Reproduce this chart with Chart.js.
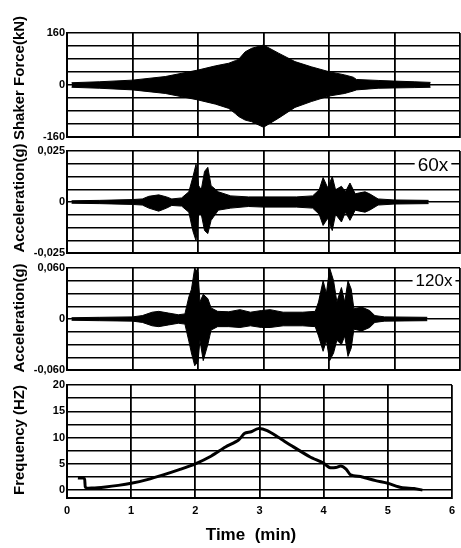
<!DOCTYPE html>
<html><head><meta charset="utf-8">
<script src="https://cdn.jsdelivr.net/npm/chart.js@4.4.1/dist/chart.umd.min.js"></script>
<style>
html,body{margin:0;padding:0;background:#fff;}
#wrap{position:relative;width:461px;height:548px;overflow:hidden;background:#fff;}
canvas{position:absolute;left:0;top:0;}
</style></head><body>
<div id="wrap">
<canvas id="c1" width="461" height="548"></canvas>
<canvas id="c2" width="461" height="548"></canvas>
<canvas id="c3" width="461" height="548"></canvas>
<canvas id="c4" width="461" height="548"></canvas>
</div>
<script>
// ---------- data ----------
const timeTicks = [0, 1, 2, 3, 4, 5, 6];

// Shaker force envelope (kN) vs time (min)
const forceT  = [0.07,0.5,1.0,1.5,2.0,2.27,2.47,2.57,2.62,2.72,2.82,3.0,3.23,3.48,3.73,4.0,4.24,4.37,4.42,4.75,5.0,5.3,5.55];
const forceUp = [7,10,15,26,46,59,67,75,79,102,113,123,98,72,56,41,31,24,17,14,12,10,8];
const forceLo = [-7,-10,-15,-26,-46,-59,-72,-88,-97,-108,-113,-130,-102,-69,-51,-34,-26,-18.5,-15,-10,-9,-8,-7];
const forceTicks = [-160,-120,-80,-40,0,40,80,120,160];
const forceTickLabels = ['-160','','','','0','','','','160'];

// Acceleration 60x envelope (g)
const acc60T  = [0.07,0.5,1.0,1.15,1.25,1.4,1.52,1.6,1.75,1.86,1.92,1.97,2.01,2.05,2.1,2.15,2.2,2.31,2.5,2.77,3.0,3.5,3.75,3.85,3.91,3.98,4.05,4.1,4.19,4.25,4.32,4.4,4.47,4.55,4.62,4.75,5.0,5.52];
const acc60Up = [0.0006,0.0008,0.0012,0.0015,0.0028,0.0035,0.0025,0.0015,0.002,0.005,0.012,0.0185,0.008,0.006,0.015,0.017,0.008,0.005,0.003,0.0025,0.0025,0.0025,0.003,0.006,0.012,0.007,0.0125,0.006,0.0077,0.005,0.0093,0.004,0.0045,0.005,0.004,0.0015,0.001,0.0008];
const acc60Lo = [-0.0006,-0.0008,-0.0012,-0.0015,-0.003,-0.0045,-0.003,-0.0017,-0.002,-0.005,-0.014,-0.019,-0.006,-0.006,-0.014,-0.0155,-0.009,-0.004,-0.003,-0.0022,-0.0025,-0.0025,-0.003,-0.006,-0.0115,-0.008,-0.014,-0.006,-0.0098,-0.005,-0.009,-0.004,-0.0045,-0.005,-0.004,-0.0015,-0.001,-0.0008];
const acc60Ticks = [-0.025,-0.01875,-0.0125,-0.00625,0,0.00625,0.0125,0.01875,0.025];
const acc60TickLabels = ['-0,025','','','','0','','','','0,025'];

// Acceleration 120x envelope (g)
const acc120T  = [0.07,0.5,1.0,1.15,1.3,1.4,1.55,1.7,1.8,1.86,1.9,1.95,2.0,2.03,2.08,2.15,2.2,2.3,2.47,2.64,2.8,2.97,3.1,3.3,3.6,3.79,3.84,3.91,3.96,4.01,4.07,4.12,4.19,4.24,4.29,4.34,4.38,4.5,4.62,4.7,4.85,5.5];
const acc120Up = [0.0015,0.002,0.0025,0.004,0.008,0.009,0.007,0.005,0.006,0.026,0.035,0.06,0.055,0.02,0.029,0.024,0.013,0.009,0.0085,0.011,0.008,0.01,0.011,0.008,0.008,0.009,0.02,0.045,0.03,0.06,0.045,0.02,0.037,0.02,0.045,0.035,0.012,0.014,0.01,0.004,0.0025,0.002];
const acc120Lo = [-0.0015,-0.002,-0.0025,-0.004,-0.008,-0.009,-0.007,-0.005,-0.006,-0.026,-0.04,-0.055,-0.05,-0.025,-0.049,-0.03,-0.013,-0.009,-0.009,-0.01,-0.008,-0.01,-0.01,-0.008,-0.008,-0.009,-0.02,-0.038,-0.025,-0.049,-0.04,-0.025,-0.03,-0.02,-0.044,-0.034,-0.012,-0.014,-0.01,-0.004,-0.0025,-0.002];
const acc120Ticks = [-0.06,-0.045,-0.03,-0.015,0,0.015,0.03,0.045,0.06];
const acc120TickLabels = ['-0,060','','','','0','','','','0,060'];

// Frequency (Hz) vs time (min)
const freqT  = [0.17,0.27,0.29,0.4,0.6,0.8,1.0,1.25,1.5,1.75,2.0,2.25,2.47,2.67,2.77,2.87,2.98,3.12,3.3,3.48,3.79,3.99,4.09,4.19,4.27,4.35,4.42,4.6,4.81,5.0,5.21,5.41,5.54];
const freqHz = [2.3,2.2,0.5,0.4,0.6,0.9,1.3,2.0,2.9,3.9,5.0,6.5,8.2,9.5,10.8,11.1,11.7,11.3,10.0,8.6,6.3,5.2,4.3,4.3,4.6,4.0,2.9,2.5,1.8,1.3,0.5,0.3,0.0];
const freqTicks = [-1.5,0,2.5,5,7.5,10,12.5,15,17.5,20];
const freqTickLabels = ['','0','','5','','10','','15','','20'];

const yTitles = ['Shaker Force(kN)', 'Acceleration(g)', 'Acceleration(g)', 'Frequency (HZ)'];
const xTitle = 'Time  (min)';
const gainNotes = ['60x', '120x'];

// ---------- drawing ----------
Chart.defaults.font.family = "'Liberation Sans', Arial, sans-serif";
Chart.defaults.color = '#000';

const decor = {
  id: 'decor',
  afterDraw(chart, args, opts) {
    const ctx = chart.ctx;
    (opts.items || []).forEach(it => {
      ctx.save();
      ctx.font = it.font;
      ctx.textAlign = 'center';
      ctx.textBaseline = 'middle';
      ctx.translate(it.x, it.y);
      if (it.rot) ctx.rotate(it.rot);
      if (it.bg) {
        const w = ctx.measureText(it.text).width;
        ctx.fillStyle = '#fff';
        ctx.fillRect(-w / 2 - 3, -9, w + 6, 18);
      }
      ctx.fillStyle = '#000';
      ctx.fillText(it.text, 0, 0);
      ctx.restore();
    });
  }
};

function envelope(T, up, lo) {
  return [
    { data: T.map((t, i) => ({ x: t, y: up[i] })), borderColor: '#000', borderWidth: 1,
      backgroundColor: '#000', fill: '+1', pointRadius: 0, tension: 0 },
    { data: T.map((t, i) => ({ x: t, y: lo[i] })), borderColor: '#000', borderWidth: 1,
      backgroundColor: '#000', fill: false, pointRadius: 0, tension: 0 }
  ];
}

function panel(id, top, bottom, yMin, yMax, yTicks, yLabels, datasets, showX, items) {
  const xh = showX ? 548 - bottom : 0;
  return new Chart(document.getElementById(id), {
    type: 'line',
    data: { datasets },
    options: {
      responsive: false, animation: false, devicePixelRatio: 1,
      layout: { padding: { top: top, bottom: 548 - bottom - xh, left: 0, right: 1 } },
      plugins: { legend: { display: false }, tooltip: { enabled: false }, decor: { items } },
      scales: {
        x: {
          type: 'linear', min: 0, max: 6,
          afterFit: s => { s.height = xh; },
          afterBuildTicks: s => { s.ticks = timeTicks.map(v => ({ value: v })); },
          ticks: { display: showX, padding: 6, font: { size: 11, weight: 'bold' }, color: '#000' },
          grid: { color: '#000', lineWidth: 1.8, drawTicks: false },
          border: { color: '#000', width: 2 }
        },
        y: {
          min: yMin, max: yMax,
          afterFit: s => { s.width = 67; },
          afterBuildTicks: s => { s.ticks = yTicks.map(v => ({ value: v })); },
          ticks: { autoSkip: false, padding: 2, callback: (v, i) => yLabels[i],
                   font: { size: 11, weight: 'bold' }, color: '#000' },
          grid: { color: '#000', lineWidth: 1.5, drawTicks: false },
          border: { color: '#000', width: 2 }
        }
      }
    },
    plugins: [decor]
  });
}

const titleFont = "bold 15px 'Liberation Sans', Arial, sans-serif";
const R = -Math.PI / 2;

panel('c1', 33, 137, -160, 160, forceTicks, forceTickLabels,
  envelope(forceT, forceUp, forceLo), false,
  [{ text: yTitles[0], x: 20, y: 78, rot: R, font: titleFont }]);

panel('c2', 151, 253, -0.025, 0.025, acc60Ticks, acc60TickLabels,
  envelope(acc60T, acc60Up, acc60Lo), false,
  [{ text: yTitles[1], x: 20, y: 198, rot: R, font: titleFont },
   { text: gainNotes[0], x: 433, y: 166, font: "19px 'Liberation Sans', Arial, sans-serif", bg: true }]);

panel('c3', 268, 370, -0.06, 0.06, acc120Ticks, acc120TickLabels,
  envelope(acc120T, acc120Up, acc120Lo), false,
  [{ text: yTitles[2], x: 20, y: 318, rot: R, font: titleFont },
   { text: gainNotes[1], x: 434, y: 281, font: "17px 'Liberation Sans', Arial, sans-serif", bg: true }]);

panel('c4', 385, 498, -1.5, 20, freqTicks, freqTickLabels,
  [{ data: freqT.map((t, i) => ({ x: t, y: freqHz[i] })), borderColor: '#000', borderWidth: 3,
     pointRadius: 0, fill: false, tension: 0.25 }], true,
  [{ text: yTitles[3], x: 20, y: 440, rot: R, font: titleFont },
   { text: xTitle, x: 251, y: 535, font: "bold 17px 'Liberation Sans', Arial, sans-serif" }]);
</script>
</body></html>
